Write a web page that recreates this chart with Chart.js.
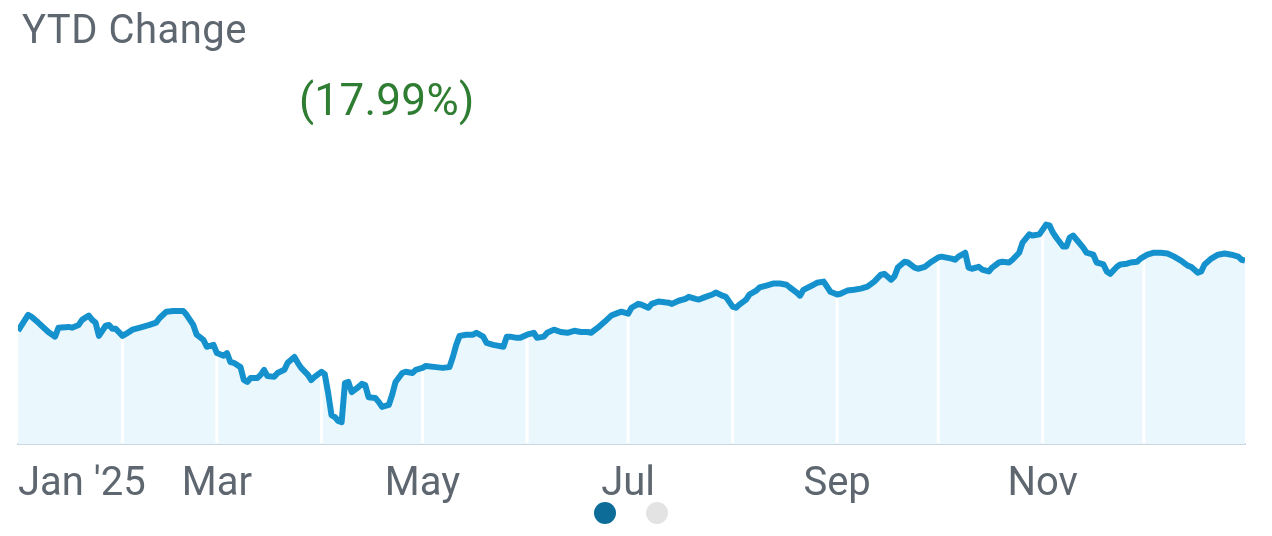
<!DOCTYPE html>
<html>
<head>
<meta charset="utf-8">
<script src="https://cdn.jsdelivr.net/npm/chart.js@4.4.1/dist/chart.umd.min.js"></script>
<style>
  html, body { margin: 0; padding: 0; background: #fff; }
  body { width: 1272px; height: 536px; position: relative; overflow: hidden; font-family: Roboto, "Noto Sans", sans-serif; }
  #c { position: absolute; left: 0; top: 0; }
  .title { position: absolute; left: 22px; top: 10px; font-size: 40px; line-height: 1; color: #5e6670; letter-spacing: 0.5px; }
  .change { position: absolute; left: 299px; top: 78px; font-size: 44px; line-height: 1; color: #2f7d32; letter-spacing: 0.3px; }
  .dot { position: absolute; top: 502px; width: 22px; height: 22px; border-radius: 50%; }
</style>
</head>
<body>
<canvas id="c" width="1272" height="536"></canvas>
<div class="title">YTD Change</div>
<div class="change">(17.99%)</div>
<div class="dot" style="left:594px;background:#0e6d98"></div>
<div class="dot" style="left:646px;background:#e3e3e3"></div>
<script>
// day of year (0 = 1 Jan 2025) and YTD change in %
const days = [0, 3, 4, 6, 7, 9, 11, 12, 15, 16, 18, 19, 21, 22, 23, 24, 26, 27, 28, 29,
  31, 32, 34, 37, 39, 41, 42, 44, 46, 49, 50, 52, 53, 55, 56, 58, 59, 61, 62, 63,
  64, 66, 67, 68, 69, 71, 72, 73, 74, 76, 77, 79, 80, 82, 83, 84, 86, 87, 88, 90,
  91, 92, 93, 94, 95, 96, 97, 98, 99, 101, 102, 103, 104, 106, 107, 108, 110, 111, 112, 114,
  115, 117, 118, 120, 121, 124, 126, 128, 129, 130, 131, 133, 135, 136, 138, 139, 141, 144, 145, 146,
  148, 149, 151, 153, 154, 156, 157, 159, 161, 163, 165, 167, 169, 170, 172, 174, 176, 178, 179, 181,
  182, 184, 185, 187, 188, 190, 193, 194, 196, 198, 199, 201, 202, 204, 206, 207, 209, 210, 212, 213,
  214, 216, 217, 219, 220, 222, 224, 226, 228, 229, 231, 232, 233, 236, 237, 239, 240, 241, 243, 244,
  246, 248, 250, 252, 254, 256, 257, 259, 260, 261, 263, 264, 266, 267, 269, 271, 273, 274, 277, 278,
  279, 281, 282, 283, 285, 286, 288, 289, 291, 292, 294, 295, 297, 298, 300, 301, 303, 305, 306, 307,
  308, 310, 311, 312, 313, 314, 316, 317, 319, 320, 322, 323, 324, 326, 327, 329, 330, 332, 333, 335,
  337, 339, 341, 343, 345, 347, 348, 350, 351, 352, 354, 356, 358, 360, 362, 363, 364];

const ytdChange = [0.0, 4.1, 3.6, 2.1, 1.3, -0.3, -1.5, 0.8, 1.0, 0.8, 1.5, 2.8, 3.9, 2.8, 2.1, -1.3, 1.3, 1.5, 0.5, 0.5,
  -1.3, -0.8, 0.3, 1.0, 1.5, 2.1, 3.3, 4.9, 5.1, 5.1, 4.1, 1.5, -1.0, -2.3, -4.1, -3.6, -5.7, -6.4, -5.7, -8.0,
  -8.2, -9.3, -12.6, -13.1, -12.1, -12.1, -11.3, -10.0, -11.6, -11.8, -10.8, -10.0, -8.2, -6.7, -8.2, -9.5, -11.3, -12.6, -11.8, -10.5,
  -11.1, -15.9, -21.6, -22.1, -23.1, -23.4, -13.4, -13.1, -15.7, -14.4, -13.6, -13.9, -17.0, -17.2, -18.2, -19.5, -19.0, -16.4, -13.1, -10.8,
  -10.5, -10.8, -10.0, -9.5, -9.0, -9.3, -9.5, -9.3, -6.7, -3.6, -1.3, -1.0, -1.0, -0.5, -1.5, -3.1, -3.6, -4.1, -1.5, -1.5,
  -1.8, -1.8, -1.0, -0.5, -1.8, -1.5, -0.5, 0.3, -0.3, -0.5, 0.0, -0.3, -0.3, -0.5, 0.8, 2.3, 3.9, 4.6, 4.9, 4.4,
  5.9, 6.9, 6.7, 5.9, 6.9, 7.5, 7.2, 6.9, 7.7, 8.2, 8.7, 8.2, 8.0, 8.7, 9.3, 9.8, 9.0, 8.7, 6.2, 5.9,
  6.7, 8.0, 9.3, 10.3, 11.1, 11.6, 12.1, 12.1, 11.8, 11.1, 9.8, 9.0, 10.5, 11.8, 12.3, 12.6, 11.3, 10.0, 9.3, 9.5,
  10.3, 10.5, 10.8, 11.3, 12.6, 14.4, 14.6, 13.1, 13.9, 16.2, 17.7, 17.5, 16.2, 15.9, 16.4, 17.7, 18.8, 19.0, 18.5, 18.2,
  19.0, 20.0, 16.2, 15.9, 16.4, 15.7, 15.2, 16.2, 17.5, 17.7, 17.5, 18.2, 20.0, 22.6, 24.7, 24.4, 24.7, 27.2, 27.0, 25.2,
  23.9, 21.6, 21.6, 23.9, 24.4, 23.4, 21.3, 20.0, 19.5, 17.5, 17.0, 15.2, 14.6, 16.4, 17.0, 17.2, 17.5, 17.7, 18.5, 19.5,
  20.0, 20.0, 19.8, 19.0, 18.0, 16.7, 16.4, 14.9, 15.2, 17.0, 18.5, 19.5, 19.8, 19.5, 19.0, 18.2, 17.99];

// month starts (day of year) and their axis labels
const monthStarts = [0, 31, 59, 90, 120, 151, 181, 212, 243, 273, 304, 334];
const monthLabels = ["Jan '25", '', 'Mar', '', 'May', '', 'Jul', '', 'Sep', '', 'Nov', ''];

// white month separators drawn over the fill but under the line
const monthLines = {
  id: 'monthLines',
  beforeDatasetDraw(chart) {
    const { ctx, chartArea, scales } = chart;
    ctx.save();
    ctx.strokeStyle = '#ffffff';
    ctx.lineWidth = 3;
    monthStarts.forEach((d, i) => {
      if (i === 0) return;
      const x = scales.x.getPixelForValue(d);
      ctx.beginPath();
      ctx.moveTo(x, chartArea.top);
      ctx.lineTo(x, chartArea.bottom - 1);
      ctx.stroke();
    });
    ctx.restore();
  }
};

const ctx = document.getElementById('c').getContext('2d');
const chart = new Chart(ctx, {
  type: 'line',
  data: {
    datasets: [{
      data: days.map((d, i) => ({ x: d, y: ytdChange[i] })),
      borderColor: '#1592cd',
      borderWidth: 6,
      backgroundColor: '#eaf7fd',
      fill: 'start',
      tension: 0,
      pointRadius: 0,
      borderJoinStyle: 'round'
    }]
  },
  options: {
    responsive: false,
    animation: false,
    layout: {
      padding: { left: 18, right: 27, top: 202, bottom: 10 }
    },
    scales: {
      x: {
        type: 'linear',
        min: 0,
        max: 364,
        afterBuildTicks: (axis) => {
          axis.ticks = monthStarts.map(v => ({ value: v }));
        },
        grid: { display: false, drawTicks: false },
        border: { display: true, color: '#cdd6e0', width: 2 },
        ticks: {
          autoSkip: false,
          maxRotation: 0,
          align: 'inner',
          padding: 17,
          color: '#5e6670',
          font: { family: 'Roboto', size: 40 },
          callback: (v, i) => monthLabels[i]
        }
      },
      y: {
        display: false,
        min: -29,
        max: 33
      }
    },
    plugins: {
      legend: { display: false },
      tooltip: { enabled: false }
    }
  },
  plugins: [monthLines]
});
</script>
</body>
</html>
